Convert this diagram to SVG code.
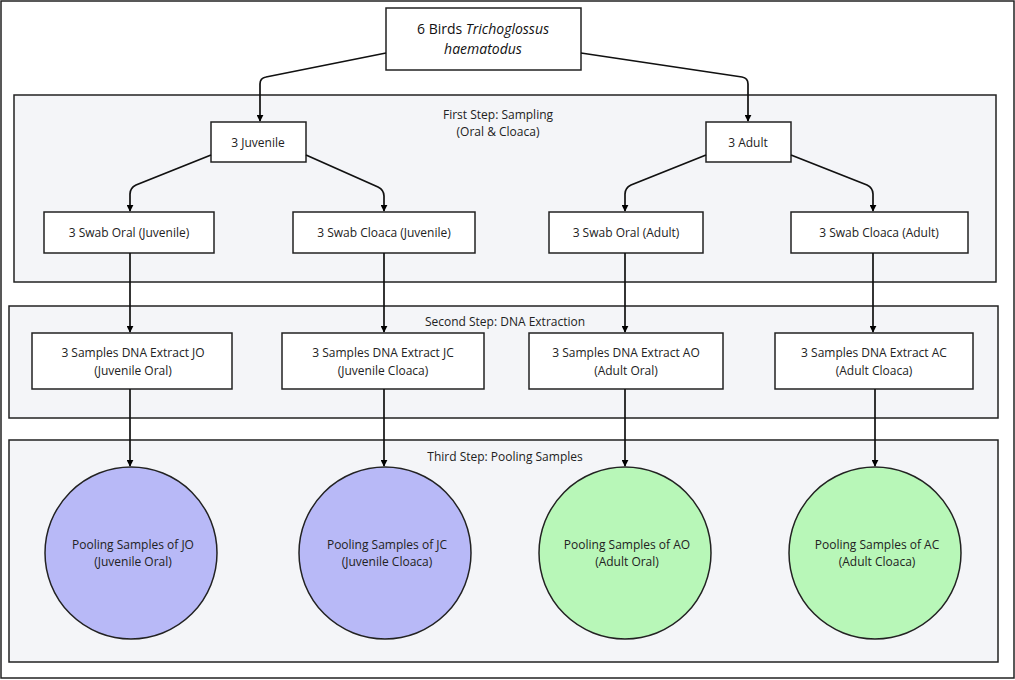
<svg xmlns="http://www.w3.org/2000/svg" width="1015" height="680" viewBox="0 0 1015 680">
<defs>
<marker id="ah" viewBox="0 0 10 10" refX="9" refY="5" markerWidth="7" markerHeight="7" orient="auto" markerUnits="userSpaceOnUse"><path d="M0,0 L10,5 L0,10 z" fill="#000"/></marker>
</defs>
<style>
.panel{fill:#f4f5f8;stroke:#222;stroke-width:1.5}
.box{fill:#fff;stroke:#222;stroke-width:1.5}
.t{font-family:"Open Sans","Liberation Sans",sans-serif;font-size:12px;fill:#222;text-anchor:middle}
.tb{font-family:"Open Sans","Liberation Sans",sans-serif;font-size:14px;fill:#111;text-anchor:middle}
.c{fill:none;stroke:#111;stroke-width:1.7;marker-end:url(#ah)}
.blue{fill:#b8b9f7;stroke:#222;stroke-width:1.5}
.green{fill:#b8f7b8;stroke:#222;stroke-width:1.5}
</style>
<rect x="0" y="0" width="1015" height="680" fill="#fff"/>
<rect x="1" y="1" width="1013" height="677" fill="none" stroke="#222" stroke-width="1.5"/>
<g id="panel1"><rect class="panel" x="14" y="95" width="982" height="187"/><text class="t" x="498" y="119">First Step: Sampling</text><text class="t" x="498" y="136">(Oral &amp; Cloaca)</text></g>
<g id="panel2"><rect class="panel" x="9" y="306" width="989" height="112"/><text class="t" x="505" y="326">Second Step: DNA Extraction</text></g>
<g id="panel3"><rect class="panel" x="9" y="440" width="989" height="222"/><text class="t" x="505" y="461">Third Step: Pooling Samples</text></g>
<g id="birds"><rect class="box" x="386" y="8" width="195" height="62"/><text class="tb" x="483" y="34">6 Birds <tspan font-style="italic">Trichoglossus</tspan></text><text class="tb" x="483" y="54" font-style="italic">haematodus</text></g>
<g id="juv"><rect class="box" x="211" y="122" width="95" height="40"/><text class="t" x="258" y="147">3 Juvenile</text></g>
<g id="adult"><rect class="box" x="706" y="122" width="85" height="40"/><text class="t" x="748" y="147">3 Adult</text></g>
<g id="swabOJ"><rect class="box" x="44" y="212" width="170" height="41"/><text class="t" x="129" y="237">3 Swab Oral (Juvenile)</text></g>
<g id="swabCJ"><rect class="box" x="293" y="212" width="182" height="41"/><text class="t" x="384" y="237">3 Swab Cloaca (Juvenile)</text></g>
<g id="swabOA"><rect class="box" x="549" y="212" width="154" height="41"/><text class="t" x="626" y="237">3 Swab Oral (Adult)</text></g>
<g id="swabCA"><rect class="box" x="791" y="212" width="177" height="41"/><text class="t" x="879" y="237">3 Swab Cloaca (Adult)</text></g>
<g id="exJO"><rect class="box" x="32" y="333" width="200" height="56"/><text class="t" x="133" y="357">3 Samples DNA Extract JO</text><text class="t" x="133" y="375">(Juvenile Oral)</text></g>
<g id="exJC"><rect class="box" x="282" y="333" width="202" height="56"/><text class="t" x="383" y="357">3 Samples DNA Extract JC</text><text class="t" x="383" y="375">(Juvenile Cloaca)</text></g>
<g id="exAO"><rect class="box" x="529" y="333" width="194" height="56"/><text class="t" x="626" y="357">3 Samples DNA Extract AO</text><text class="t" x="626" y="375">(Adult Oral)</text></g>
<g id="exAC"><rect class="box" x="775" y="333" width="198" height="56"/><text class="t" x="874" y="357">3 Samples DNA Extract AC</text><text class="t" x="874" y="375">(Adult Cloaca)</text></g>
<g id="poolJO"><circle class="blue" cx="131" cy="553" r="86"/><text class="t" x="133" y="549">Pooling Samples of JO</text><text class="t" x="133" y="566">(Juvenile Oral)</text></g>
<g id="poolJC"><circle class="blue" cx="385" cy="553" r="86"/><text class="t" x="387" y="549">Pooling Samples of JC</text><text class="t" x="387" y="566">(Juvenile Cloaca)</text></g>
<g id="poolAO"><circle class="green" cx="625" cy="553" r="86"/><text class="t" x="627" y="549">Pooling Samples of AO</text><text class="t" x="627" y="566">(Adult Oral)</text></g>
<g id="poolAC"><circle class="green" cx="875" cy="553" r="86"/><text class="t" x="877" y="549">Pooling Samples of AC</text><text class="t" x="877" y="566">(Adult Cloaca)</text></g>
<g id="connectors">
<path class="c" d="M386,53 L266,77 Q260,78 260,84 L260,121"/>
<path class="c" d="M581,53 L742,77 Q748,78 748,84 L748,121"/>
<path class="c" d="M211,155 L136,185 Q130,188 130,194 L130,211"/>
<path class="c" d="M306,155 L378,187 Q384,190 384,196 L384,211"/>
<path class="c" d="M706,155 L631,185 Q625,188 625,194 L625,211"/>
<path class="c" d="M791,155 L867,185 Q873,188 873,194 L873,211"/>
<path class="c" d="M130,253 L130,332"/>
<path class="c" d="M384,253 L384,332"/>
<path class="c" d="M625,253 L625,332"/>
<path class="c" d="M873,253 L873,332"/>
<path class="c" d="M130,389 L130,466"/>
<path class="c" d="M384,389 L384,466"/>
<path class="c" d="M625,389 L625,466"/>
<path class="c" d="M875,389 L875,466"/>
</g>
</svg>
